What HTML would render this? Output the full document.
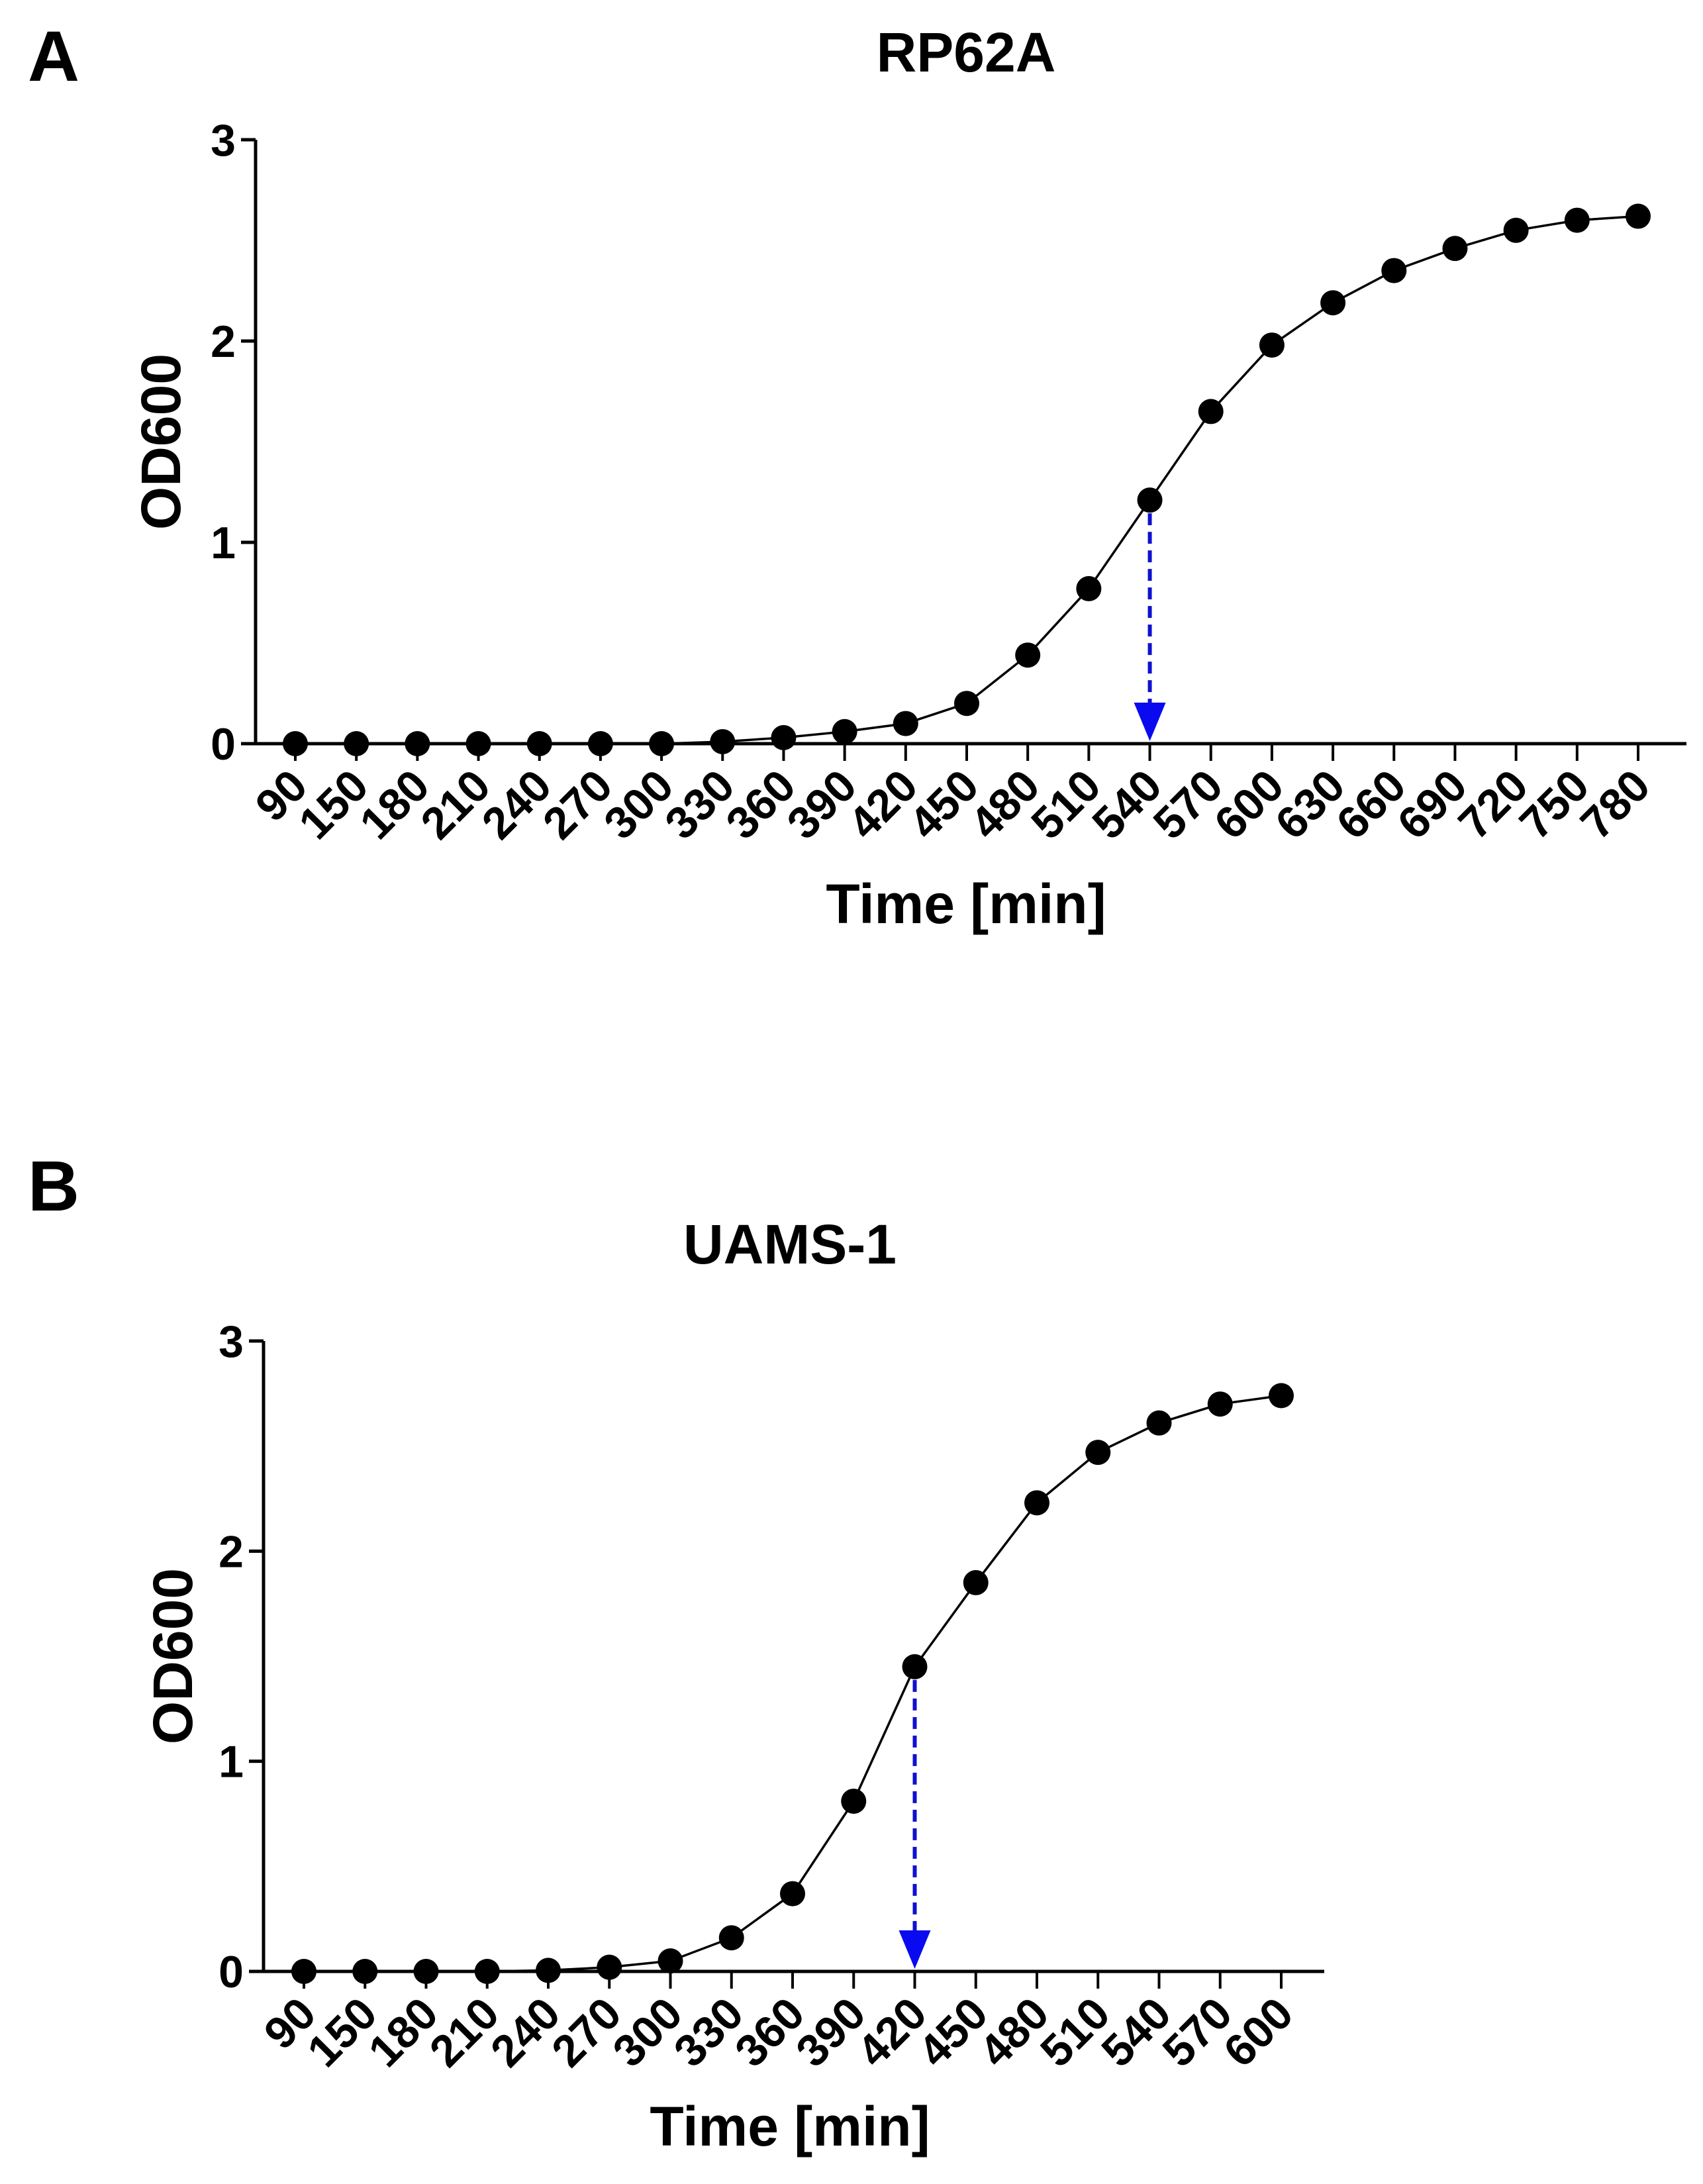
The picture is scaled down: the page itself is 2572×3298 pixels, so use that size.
<!DOCTYPE html>
<html><head><meta charset="utf-8"><style>
body{margin:0;background:#fff}
svg text{font-family:"Liberation Sans",Arial,sans-serif;font-weight:bold;fill:#000}
</style></head><body>
<svg id="fig" width="2572" height="3293" xmlns="http://www.w3.org/2000/svg">
<text x="42" y="122" font-size="108">A</text>
<text x="42" y="1828" font-size="108">B</text>
</svg>
<script>
const catsA=[90,150,180,210,240,270,300,330,360,390,420,450,480,510,540,570,600,630,660,690,720,750,780];
const valsA=[0,0,0,0,0,0,0,0.01,0.03,0.06,0.1,0.2,0.44,0.77,1.21,1.65,1.98,2.19,2.35,2.46,2.55,2.6,2.62];
const catsB=[90,150,180,210,240,270,300,330,360,390,420,450,480,510,540,570,600];
const valsB=[0,0,0,0,0.005,0.02,0.05,0.16,0.37,0.81,1.45,1.85,2.23,2.47,2.61,2.70,2.74];
const yTicks=[0,1,2,3];
const arrowA=540, arrowB=420;
const svg=document.getElementById('fig');
const NS='http://www.w3.org/2000/svg';
function mk(tag,attrs,parent){const e=document.createElementNS(NS,tag);for(const k in attrs)e.setAttribute(k,attrs[k]);(parent||svg).appendChild(e);return e;}
function chart(o){
  const g=mk('g',{});
  
  
  const n=o.cats.length;
  const xs=i=>o.x0+(o.x1-o.x0)*i/(n-1);
  const ys=v=>o.y0+(o.y3-o.y0)*v/3;
  const t=mk('text',{x:o.tx,y:o.ty,'font-size':84,'text-anchor':'middle'},g);t.textContent=o.title;
  
  mk('line',{x1:o.ax,y1:o.y3,x2:o.ax,y2:o.y0,stroke:'#000','stroke-width':5},g);
  const xa=mk('line',{x1:o.ax,y1:o.y0,x2:o.xend,y2:o.y0,stroke:'#000','stroke-width':5},g);
  
  yTicks.forEach(v=>{
    mk('line',{x1:o.ax-22,y1:ys(v),x2:o.ax,y2:ys(v),stroke:'#000','stroke-width':5},g);
    const l=mk('text',{x:o.ax-30,y:ys(v)+24,'font-size':68,'text-anchor':'end'},g);l.textContent=v;
    
  });
  o.cats.forEach((c,i)=>{
    const x=xs(i);
    mk('line',{x1:x,y1:o.y0,x2:x,y2:o.y0+26,stroke:'#000','stroke-width':4},g);
    const l=mk('text',{x:0,y:0,'font-size':68,'text-anchor':'end',transform:`translate(${x+22},${o.y0+68}) rotate(-45)`},g);
    l.textContent=c;
    
  });
  const xt=mk('text',{x:o.tx,y:o.xty,'font-size':84,'text-anchor':'middle'},g);xt.textContent='Time [min]';
  
  const yt=mk('text',{x:0,y:0,'font-size':84,'text-anchor':'middle',transform:`translate(${o.ytx},${(o.y0+o.y3)/2}) rotate(-90)`},g);yt.textContent='OD600';
  
  const ai=o.cats.indexOf(o.arrow);const axx=xs(ai);
  const dl=mk('line',{x1:axx,y1:ys(o.vals[ai])+20,x2:axx,y2:o.y0-55,stroke:'#1010d0','stroke-width':6,'stroke-dasharray':'18,10'},g);
  
  const ah=mk('polygon',{points:`${axx-24},${o.y0-62} ${axx+24},${o.y0-62} ${axx},${o.y0-4}`,fill:'#0a0af0'},g);
  
  const pl=mk('polyline',{points:o.vals.map((v,i)=>xs(i)+','+ys(v)).join(' '),fill:'none',stroke:'#000','stroke-width':3.5},g);
  
  o.vals.forEach((v,i)=>{
    const c=mk('circle',{cx:xs(i),cy:ys(v),r:19,fill:'#000'},g);
    
    
  });
}
chart({name:'chart-rp62a',title:'RP62A',cats:catsA,vals:valsA,arrow:arrowA,ax:386,x0:446,x1:2474,xend:2547,y0:1123,y3:211,tx:1459,ty:108,xty:1394,ytx:272});
chart({name:'chart-uams1',title:'UAMS-1',cats:catsB,vals:valsB,arrow:arrowB,ax:398,x0:459,x1:1935,xend:2000,y0:2977,y3:2025,tx:1193,ty:1908,xty:3240,ytx:290});
</script>
</body></html>
